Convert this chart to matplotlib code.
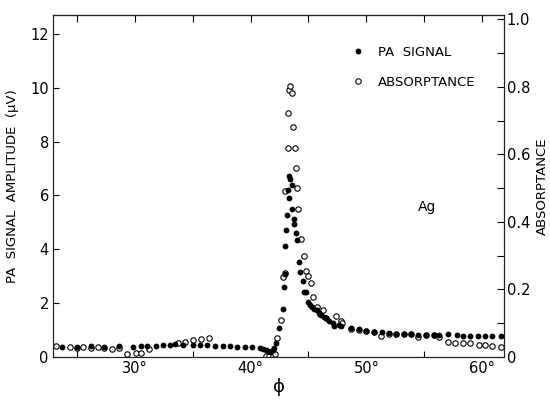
import matplotlib
matplotlib.use("Agg")
import matplotlib.pyplot as plt
import numpy as np

# ---- data ----
phi_pa = [23.7, 25.0, 26.2, 27.35, 28.65, 29.8, 30.5, 31.05, 31.8, 32.45, 33.0, 33.5,
          34.2, 35.0, 35.6, 36.2, 36.9, 37.6, 38.2, 38.8, 39.5, 40.1, 40.8, 41.1, 41.3,
          41.5, 41.7, 41.9, 42.0, 42.2, 42.5, 42.8, 42.9, 42.95, 43.0, 43.1, 43.15, 43.2,
          43.3, 43.3, 43.4, 43.6, 43.6, 43.75, 43.75, 43.9, 44.0, 44.2, 44.3, 44.5, 44.6,
          44.8, 45.0, 45.1, 45.3, 45.5, 45.7, 45.9, 46.1, 46.35, 46.55, 46.8, 47.1, 47.25,
          47.6, 47.85, 48.65, 49.35, 50.0, 50.65, 51.35, 51.95, 52.6, 53.25, 53.9, 54.5,
          55.2, 55.85, 56.25, 57.1, 57.8, 58.4, 59.0, 59.65, 60.3, 60.9, 61.6]
pa_signal = [0.38, 0.38, 0.41, 0.38, 0.41, 0.38, 0.41, 0.41, 0.41, 0.45, 0.45, 0.49,
             0.45, 0.45, 0.45, 0.45, 0.42, 0.42, 0.41, 0.38, 0.38, 0.36, 0.32, 0.30, 0.25,
             0.22, 0.20, 0.26, 0.35, 0.51, 1.07, 1.78, 2.60, 3.09, 4.12, 4.71, 5.26, 6.20,
             6.73, 5.92, 6.60, 6.38, 5.49, 5.14, 4.93, 4.62, 4.33, 3.52, 3.15, 2.81, 2.40,
             2.40, 2.06, 1.94, 1.85, 1.78, 1.73, 1.65, 1.57, 1.50, 1.44, 1.32, 1.26, 1.16,
             1.20, 1.16, 1.07, 1.03, 0.98, 0.94, 0.91, 0.88, 0.86, 0.86, 0.86, 0.82,
             0.82, 0.82, 0.82, 0.86, 0.82, 0.79, 0.79, 0.79, 0.79, 0.79, 0.79]

phi_ab = [23.2, 24.4, 25.0, 25.5, 26.2, 26.8, 27.35, 28.0, 28.65, 29.3, 30.1, 30.5, 31.2,
          33.7, 34.3, 35.0, 35.7, 36.4, 41.3, 41.6, 41.9, 42.1, 42.3, 42.6, 42.8, 43.0,
          42.95, 43.2, 43.25, 43.3, 43.4, 43.6, 43.7, 43.8, 43.9, 44.05, 44.1, 44.4, 44.6,
          44.75, 45.0, 45.2, 45.4, 45.7, 46.0, 46.3, 46.55, 47.4, 47.85, 47.9, 48.65,
          49.35, 50.0, 50.65, 51.3, 51.95, 52.6, 53.25, 53.9, 54.5, 55.2, 55.85, 56.3,
          57.1, 57.7, 58.4, 59.0, 59.7, 60.3, 60.9, 61.6]
absorptance = [0.033, 0.030, 0.027, 0.029, 0.027, 0.029, 0.027, 0.023, 0.026, 0.008,
               0.011, 0.013, 0.023, 0.042, 0.043, 0.050, 0.052, 0.055, 0.002, 0.002,
               0.004, 0.010, 0.055, 0.110, 0.238, 0.248, 0.493, 0.618, 0.722, 0.791,
               0.803, 0.781, 0.682, 0.618, 0.559, 0.500, 0.437, 0.349, 0.299, 0.256,
               0.240, 0.218, 0.177, 0.147, 0.127, 0.139, 0.115, 0.121, 0.108, 0.100,
               0.083, 0.080, 0.077, 0.074, 0.061, 0.069, 0.068, 0.068, 0.067, 0.059,
               0.065, 0.065, 0.058, 0.045, 0.041, 0.041, 0.042, 0.036, 0.036, 0.033,
               0.029]

x_major = [30, 40, 50, 60]
x_labels = ["30°", "40°", "50°", "60°"]
x_minor = [25, 35, 45, 55]
x_top = [25, 30, 35, 40, 45, 50, 55, 60]
y_left_ticks = [0, 2, 4, 6, 8, 10, 12]
y_left_labels = ["0", "2", "4", "6", "8", "10", "12"]
y_right_ticks = [0, 0.2, 0.4, 0.6, 0.8, 1.0]
y_right_labels = ["0", "0.2", "0.4", "0.6", "0.8", "1.0"]
y_right_minor = [0.1, 0.3, 0.5, 0.7, 0.9]

plt.rcParams['font.family'] = ['DejaVu Sans']
fig = plt.figure(figsize=(5.5, 4.0), dpi=100)
ax = fig.add_axes([53/550, 1-357/400, (504-53)/550, (357-15)/400])
ax2 = ax.twinx()

ms = 4.2
ax.plot(phi_pa, pa_signal, 'o', color='black', ms=ms, mew=0, label='PA  SIGNAL', zorder=3)
ax2.plot(phi_ab, absorptance, 'o', mfc='white', mec='black', ms=3.9, mew=0.8,
         label='ABSORPTANCE', zorder=2)
ax.set_zorder(ax2.get_zorder() + 1)
ax.patch.set_visible(False)

ax.set_xlim(22.93, 61.9)
ax.set_ylim(0, 12.7)
ax2.set_ylim(0, 1.013)

for a in (ax, ax2):
    for s in a.spines.values():
        s.set_linewidth(0.8)
        s.set_color('#222222')

ax.set_xticks(x_major)
ax.set_xticklabels(x_labels, fontsize=10.5)
ax.set_xticks(x_minor, minor=True)
ax.tick_params(axis='x', which='major', length=0, pad=3)
ax.tick_params(axis='x', which='minor', direction='in', length=4, width=0.8,
               top=False)
ax.set_yticks(y_left_ticks)
ax.set_yticklabels(y_left_labels, fontsize=10.5)
ax.tick_params(axis='y', direction='in', length=4, width=0.8, pad=3)

ax2.set_yticks(y_right_ticks)
ax2.set_yticklabels(y_right_labels, fontsize=10.5)
ax2.set_yticks(y_right_minor, minor=True)
ax2.tick_params(axis='y', which='both', direction='in', length=5, width=0.8, pad=2)

# top ticks
sec = ax.secondary_xaxis('top')
sec.set_xticks(x_top)
sec.set_xticklabels([])
sec.tick_params(direction='in', length=5, width=0.8)
sec.spines['top'].set_linewidth(0.8)

ax.set_ylabel("PA  SIGNAL  AMPLITUDE  (μV)", fontsize=9.5, labelpad=8)
ax2.set_ylabel("ABSORPTANCE", fontsize=9.5, labelpad=4)
ax.set_xlabel("ϕ", fontsize=13, labelpad=1)

h1, l1 = ax.get_legend_handles_labels()
h2, l2 = ax2.get_legend_handles_labels()
ax.legend(h1 + h2, l1 + l2, loc='upper left', bbox_to_anchor=(0.635, 0.945),
          frameon=False, fontsize=9.5, labelspacing=1.3, handletextpad=1.0,
          handlelength=1.0)

ax.text(0.83, 0.44, "Ag", transform=ax.transAxes, fontsize=10, ha='center', va='center')

fig.savefig("out.png", dpi=100)
